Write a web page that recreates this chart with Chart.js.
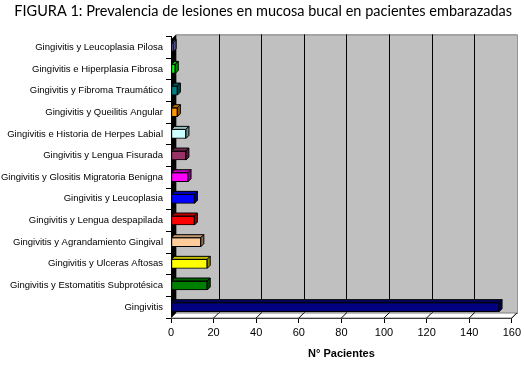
<!DOCTYPE html>
<html>
<head>
<meta charset="utf-8">
<script src="https://cdn.jsdelivr.net/npm/chart.js@4/dist/chart.umd.min.js"></script>
<style>
  html, body { margin: 0; padding: 0; background: #fff; }
  #wrap { width: 524px; height: 369px; }
</style>
</head>
<body>
<div id="wrap"><canvas id="lesiones-chart"></canvas></div>
<script>
const categories = [
  'Gingivitis y Leucoplasia Pilosa',
  'Gingivitis e Hiperplasia Fibrosa',
  'Gingivitis y Fibroma Traumático',
  'Gingivitis y Queilitis Angular',
  'Gingivitis e Historia de Herpes Labial',
  'Gingivitis y Lengua Fisurada',
  'Gingivitis y Glositis Migratoria Benigna',
  'Gingivitis y Leucoplasia',
  'Gingivitis y Lengua despapilada',
  'Gingivitis y Agrandamiento Gingival',
  'Gingivitis y Ulceras Aftosas',
  'Gingivitis y Estomatitis Subprotésica',
  'Gingivitis'
];
const pacientes = [1, 2, 3, 3, 7, 7, 8, 11, 11, 14, 17, 17, 154];
const barColors = [
  '#9999ff', '#00ff00', '#008080', '#ff9900', '#ccffff', '#993366', '#ff00ff',
  '#0000ff', '#ff0000', '#ffcc99', '#ffff00', '#008000', '#000080'
];
const xTicks = [0, 20, 40, 60, 80, 100, 120, 140, 160];

const DEPTH = 5;

function shade(hex, f) {
  let n = parseInt(hex.slice(1), 16);
  let r = Math.round(((n >> 16) & 255) * f);
  let g = Math.round(((n >> 8) & 255) * f);
  let b = Math.round((n & 255) * f);
  return `rgb(${r}, ${g}, ${b})`;
}

// grey back wall, black side wall, white floor like the old 3D office charts
const walls = {
  id: 'walls',
  beforeDatasetsDraw(chart) {
    const { ctx, chartArea: a, scales: { x } } = chart;
    const top = a.top + 3;
    ctx.save();
    ctx.lineWidth = 1;
    ctx.strokeStyle = '#000';

    ctx.fillStyle = '#c0c0c0';
    ctx.fillRect(a.left + DEPTH, top - DEPTH, a.right - a.left, a.bottom - top);
    ctx.strokeStyle = '#808080';
    ctx.strokeRect(a.left + DEPTH + 0.5, top - DEPTH + 0.5, a.right - a.left, a.bottom - top);

    ctx.strokeStyle = '#000';
    xTicks.slice(1, -1).forEach(v => {
      let px = Math.round(x.getPixelForValue(v)) + DEPTH + 0.5;
      ctx.beginPath();
      ctx.moveTo(px, top - DEPTH);
      ctx.lineTo(px, a.bottom - DEPTH);
      ctx.stroke();
    });

    // floor
    ctx.fillStyle = '#fff';
    ctx.beginPath();
    ctx.moveTo(a.left, a.bottom);
    ctx.lineTo(a.right, a.bottom);
    ctx.lineTo(a.right + DEPTH, a.bottom - DEPTH);
    ctx.lineTo(a.left + DEPTH, a.bottom - DEPTH);
    ctx.closePath();
    ctx.fill();
    ctx.strokeStyle = '#808080';
    ctx.stroke();
    ctx.strokeStyle = '#000';
    xTicks.slice(1).forEach(v => {
      let px = x.getPixelForValue(v);
      ctx.beginPath();
      ctx.moveTo(px, a.bottom);
      ctx.lineTo(px + DEPTH, a.bottom - DEPTH);
      ctx.stroke();
    });

    // left wall
    ctx.fillStyle = '#000';
    ctx.beginPath();
    ctx.moveTo(a.left, top);
    ctx.lineTo(a.left + DEPTH, top - DEPTH);
    ctx.lineTo(a.left + DEPTH, a.bottom - DEPTH);
    ctx.lineTo(a.left, a.bottom);
    ctx.closePath();
    ctx.fill();
    ctx.restore();
  }
};

// top and end faces of each bar
const bars3d = {
  id: 'bars3d',
  afterDatasetsDraw(chart) {
    const { ctx } = chart;
    const d = 3;
    ctx.save();
    ctx.lineWidth = 1;
    ctx.strokeStyle = '#000';
    chart.getDatasetMeta(0).data.forEach((bar, i) => {
      const { x, y, base, height } = bar.getProps(['x', 'y', 'base', 'height'], true);
      const t = y - height / 2, b = y + height / 2;
      ctx.fillStyle = shade(barColors[i], 0.75);
      ctx.beginPath();
      ctx.moveTo(base, t);
      ctx.lineTo(x, t);
      ctx.lineTo(x + d, t - d);
      ctx.lineTo(base + d, t - d);
      ctx.closePath();
      ctx.fill();
      ctx.stroke();
      ctx.fillStyle = shade(barColors[i], 0.55);
      ctx.beginPath();
      ctx.moveTo(x, t);
      ctx.lineTo(x + d, t - d);
      ctx.lineTo(x + d, b - d);
      ctx.lineTo(x, b);
      ctx.closePath();
      ctx.fill();
      ctx.stroke();
    });
    ctx.restore();
  }
};

let lesionesChart = new Chart(document.getElementById('lesiones-chart').getContext('2d'), {
  type: 'bar',
  data: {
    labels: categories,
    datasets: [{
      label: 'N° Pacientes',
      data: pacientes,
      backgroundColor: barColors,
      borderColor: '#000',
      borderWidth: 1,
      borderSkipped: false,
      barThickness: 9
    }]
  },
  options: {
    indexAxis: 'y',
    responsive: true,
    maintainAspectRatio: false,
    animation: false,
    layout: {
      padding: { top: 0, right: 12, bottom: 0, left: 0 }
    },
    plugins: {
      legend: { display: false },
      tooltip: { enabled: false },
      title: {
        display: true,
        align: 'end',
        text: 'FIGURA 1: Prevalencia de lesiones en mucosa bucal en pacientes embarazadas',
        color: '#000',
        font: { family: 'Lato', size: 14.5, weight: 'normal' },
        padding: { top: 3, bottom: 16 }
      }
    },
    scales: {
      x: {
        min: 0,
        max: 160,
        afterFit: s => { s.height = 51; },
        afterBuildTicks: s => { s.ticks = xTicks.map(v => ({ value: v })); },
        grid: { drawOnChartArea: false, tickLength: 5, color: '#000' },
        border: { color: '#000' },
        ticks: {
          color: '#000',
          padding: 3,
          font: { family: 'Liberation Sans', size: 11 }
        },
        title: {
          display: true,
          text: 'N° Pacientes',
          color: '#000',
          font: { family: 'Liberation Sans', size: 11, weight: 'bold' },
          padding: { top: 4, bottom: 8 }
        }
      },
      y: {
        afterFit: s => { s.width = 171; },
        grid: { drawOnChartArea: false, tickLength: 5, color: '#000' },
        border: { color: '#000' },
        ticks: {
          color: '#000',
          padding: 3,
          autoSkip: false,
          font: { family: 'Liberation Sans', size: 9.5 }
        }
      }
    }
  },
  plugins: [walls, bars3d]
});
</script>
</body>
</html>
